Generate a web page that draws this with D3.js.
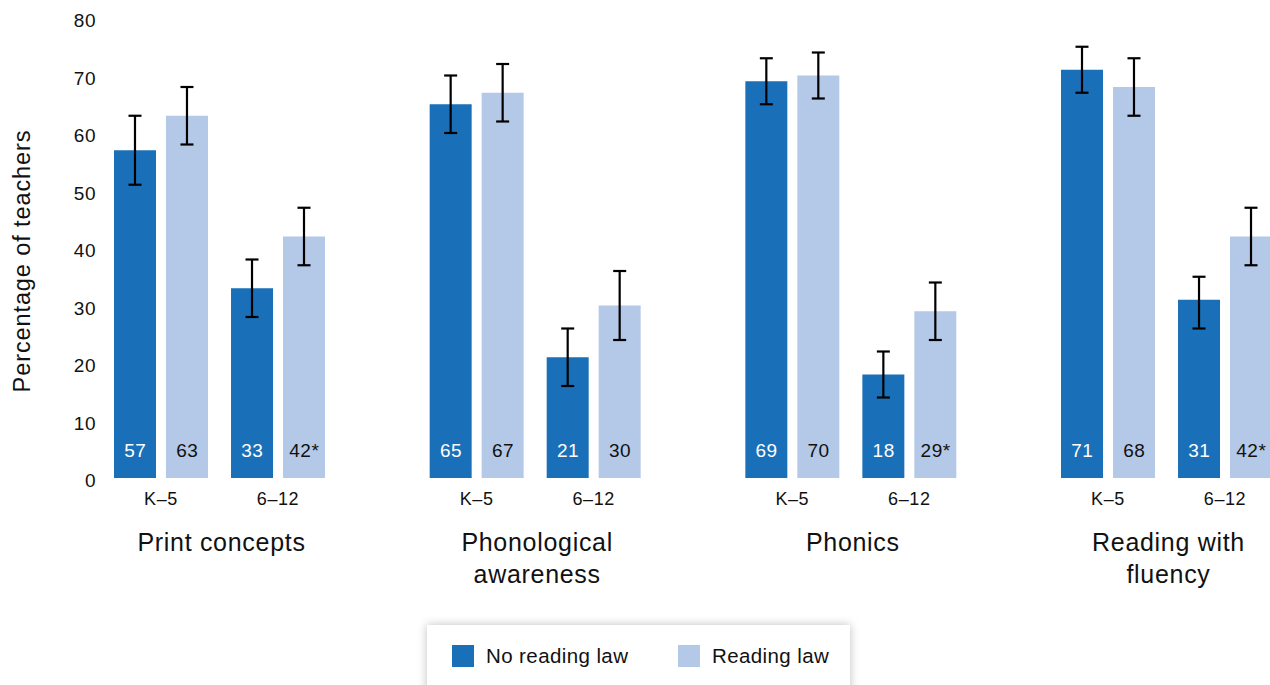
<!DOCTYPE html>
<html>
<head>
<meta charset="utf-8">
<script src="https://cdn.jsdelivr.net/npm/d3@7"></script>
<style>
  body { margin: 0; background: #fff; }
  svg { display: block; font-family: "Liberation Sans", Arial, Helvetica, sans-serif; }
</style>
</head>
<body>
<div id="chart"></div>
<script>
// data
const categories = ["Print concepts", "Phonological awareness", "Phonics", "Reading with fluency"]
const categoryLines = [["Print concepts"], ["Phonological", "awareness"], ["Phonics"], ["Reading with", "fluency"]]
const grades = ["K–5", "6–12"]
const series = ["No reading law", "Reading law"]

// ordered by category, then grade (K–5, 6–12)
const noLaw = [57, 33, 65, 21, 69, 18, 71, 31]
const noLawLow = [51, 28, 60, 16, 65, 14, 67, 26]
const noLawHigh = [63, 38, 70, 26, 73, 22, 75, 35]
const law = [63, 42, 67, 30, 70, 29, 68, 42]
const lawLow = [58, 37, 62, 24, 66, 24, 63, 37]
const lawHigh = [68, 47, 72, 36, 74, 34, 73, 47]
const lawSignificant = [false, true, false, false, false, true, false, true]
const yTicks = [0, 10, 20, 30, 40, 50, 60, 70, 80]

const colours = ["#1a70b8", "#b4c8e7"]

const width = 1270
const height = 685

const svg = d3.select("#chart")
    .append("svg")
    .attr("width", width)
    .attr("height", height)

const defs = svg.append("defs")
const shadow = defs.append("filter")
    .attr("id", "shadow")
    .attr("x", "-10%").attr("y", "-50%")
    .attr("width", "120%").attr("height", "200%")
shadow.append("feDropShadow")
    .attr("dx", 0).attr("dy", 0)
    .attr("stdDeviation", 5)
    .attr("flood-color", "#000")
    .attr("flood-opacity", 0.25)

const y = d3.scaleLinear().domain([0, 80]).range([478, 18])

const x0 = d3.scaleBand()
    .domain(categories)
    .range([114, 1272])
    .paddingInner(0.3316)

const x1 = d3.scaleBand()
    .domain(grades)
    .range([0, x0.bandwidth()])
    .paddingInner(0.197)

const x2 = d3.scaleBand()
    .domain(series)
    .range([0, x1.bandwidth()])
    .paddingInner(10 / 52)

// flatten into rows
const rows = []
categories.forEach((c, ci) => {
    grades.forEach((g, gi) => {
        const i = ci * 2 + gi
        rows.push({ cat: c, grade: g, s: series[0], v: noLaw[i], lo: noLawLow[i], hi: noLawHigh[i], star: false, k: 0 })
        rows.push({ cat: c, grade: g, s: series[1], v: law[i], lo: lawLow[i], hi: lawHigh[i], star: lawSignificant[i], k: 1 })
    })
})

const xPos = d => x0(d.cat) + x1(d.grade) + x2(d.s)
const xMid = d => xPos(d) + x2.bandwidth() / 2

// y axis tick labels (no line)
svg.append("g")
    .selectAll("text")
    .data(yTicks)
    .join("text")
    .attr("x", 96)
    .attr("y", d => y(d) + 9)
    .attr("text-anchor", "end")
    .attr("font-size", 19)
    .attr("letter-spacing", 0.5)
    .attr("fill", "#111")
    .text(d => d)

svg.append("text")
    .attr("transform", "translate(30,261) rotate(-90)")
    .attr("text-anchor", "middle")
    .attr("font-size", 23.5)
    .attr("letter-spacing", 0.9)
    .attr("fill", "#111")
    .text("Percentage of teachers")

// bars
svg.append("g")
    .selectAll("rect")
    .data(rows)
    .join("rect")
    .attr("x", xPos)
    .attr("y", d => y(d.v))
    .attr("width", x2.bandwidth())
    .attr("height", d => y(0) - y(d.v))
    .attr("fill", d => colours[d.k])

// error bars
const err = svg.append("g")
    .attr("stroke", "#000")
    .attr("stroke-width", 2.2)
err.selectAll("line.stem")
    .data(rows)
    .join("line")
    .attr("class", "stem")
    .attr("x1", xMid).attr("x2", xMid)
    .attr("y1", d => y(d.hi)).attr("y2", d => y(d.lo))
err.selectAll("line.capHi")
    .data(rows)
    .join("line")
    .attr("class", "capHi")
    .attr("x1", d => xMid(d) - 6.5).attr("x2", d => xMid(d) + 6.5)
    .attr("y1", d => y(d.hi)).attr("y2", d => y(d.hi))
err.selectAll("line.capLo")
    .data(rows)
    .join("line")
    .attr("class", "capLo")
    .attr("x1", d => xMid(d) - 6.5).attr("x2", d => xMid(d) + 6.5)
    .attr("y1", d => y(d.lo)).attr("y2", d => y(d.lo))

// value labels inside bars
svg.append("g")
    .selectAll("text")
    .data(rows)
    .join("text")
    .attr("x", d => xMid(d) + 0.3)
    .attr("y", 457)
    .attr("text-anchor", "middle")
    .attr("font-size", 19)
    .attr("letter-spacing", 0.5)
    .attr("fill", d => d.k == 0 ? "#fff" : "#111")
    .text(d => d.v + (d.star ? "*" : ""))

// grade labels
const gradeRows = categories.flatMap(c => grades.map(g => ({ cat: c, grade: g })))
svg.append("g")
    .selectAll("text")
    .data(gradeRows)
    .join("text")
    .attr("x", d => x0(d.cat) + x1(d.grade) + x1.bandwidth() / 2)
    .attr("y", 505)
    .attr("text-anchor", "middle")
    .attr("font-size", 18)
    .attr("letter-spacing", 0.6)
    .attr("fill", "#111")
    .text(d => d.grade)

// category labels
const catText = svg.append("g")
    .selectAll("text")
    .data(categories)
    .join("text")
    .attr("y", 551)
    .attr("text-anchor", "middle")
    .attr("font-size", 25)
    .attr("letter-spacing", 0.7)
    .attr("fill", "#111")
catText.selectAll("tspan")
    .data((d, i) => categoryLines[i].map(l => ({ l, x: x0(d) + x0.bandwidth() / 2 + 2 })))
    .join("tspan")
    .attr("x", d => d.x)
    .attr("dy", (d, i) => i == 0 ? 0 : 31.5)
    .text(d => d.l)

// legend
const legend = svg.append("g")
legend.append("rect")
    .attr("x", 427).attr("y", 625)
    .attr("width", 423).attr("height", 80)
    .attr("fill", "#fff")
    .attr("filter", "url(#shadow)")

const legendX = [452, 678]
const legendItem = legend.selectAll("g")
    .data(series)
    .join("g")
    .attr("transform", (d, i) => `translate(${legendX[i]},645)`)
legendItem.append("rect")
    .attr("width", 22).attr("height", 22)
    .attr("fill", (d, i) => colours[i])
legendItem.append("text")
    .attr("x", 34).attr("y", 18)
    .attr("font-size", 20.5)
    .attr("letter-spacing", 0.4)
    .attr("fill", "#111")
    .text(d => d)
</script>
</body>
</html>
